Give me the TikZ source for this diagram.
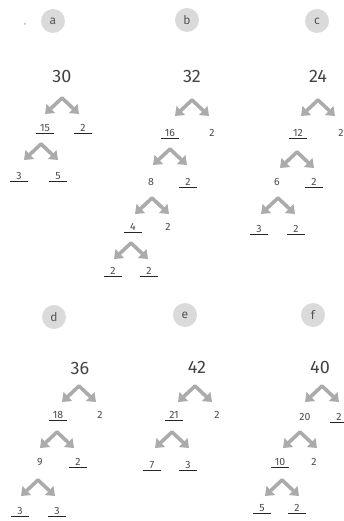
\documentclass[tikz,border=0pt]{standalone}
\usepackage{fontspec}
\setmainfont{Fira Sans}
\usetikzlibrary{arrows.meta}
\definecolor{numcol}{HTML}{444444}
\definecolor{kidcol}{HTML}{4A4A4A}
\definecolor{chevcol}{HTML}{ABABAB}
\definecolor{circfill}{HTML}{DADADA}
\definecolor{circtext}{HTML}{555555}
\tikzset{
  rootnum/.style={inner sep=0pt, text=numcol, font=\fontsize{18}{18}\selectfont},
  kid/.style={inner sep=0pt, text=kidcol, font=\fontsize{10.5}{10.5}\selectfont},
  ukid/.style={kid, minimum width=17pt, inner ysep=1.8pt,
    append after command={(\tikzlastnode.south west) edge[draw=black!85, line width=1.2pt] (\tikzlastnode.south east)}},
  tag/.style={circle, fill=circfill, minimum size=24pt, inner sep=0pt, text=circtext, font=\fontsize{12}{12}\selectfont},
  chev/.style={draw=chevcol, line width=3.6pt, line join=round,
    {Triangle[length=8pt,width=12pt]}-{Triangle[length=8pt,width=12pt]}}
}
\newcommand\chevat[2]{\draw[chev] (#1-17,#2+9) -- (#1,#2-7) -- (#1+17,#2+9);}
\begin{document}
\begin{tikzpicture}[x=1pt,y=-1pt]
\useasboundingbox (0,0) rectangle (343,521);
% stray dot
\fill[gray!60] (25,24) circle (1pt);
% tags
\node[tag] (ta) at (53,21) {a};
\node[tag] (tb) at (187,20) {b};
\node[tag] (tc) at (317,21) {c};
\node[tag] (td) at (54,317) {d};
\node[tag] (te) at (185,315) {e};
\node[tag] (tf) at (313,315) {f};
% tree a
\node[rootnum] (a0) at (62,76) {30};
\chevat{62}{105}
\node[ukid] (a1) at (45,128) {15};
\node[ukid] (a2) at (83,128) {2};
\chevat{41}{151}
\node[ukid] (a3) at (19,176) {3};
\node[ukid] (a4) at (58,176) {5};
% tree b
\node[rootnum] (b0) at (192,76) {32};
\chevat{192}{107}
\node[ukid] (b1) at (170,133) {16};
\node[kid] (b2) at (212,133) {2};
\chevat{170}{156}
\node[kid] (b3) at (151,182) {8};
\node[ukid] (b4) at (188,182) {2};
\chevat{152}{205}
\node[ukid] (b5) at (133,227) {4};
\node[kid] (b6) at (168,227) {2};
\chevat{131}{250}
\node[ukid] (b7) at (113,271) {2};
\node[ukid] (b8) at (149,271) {2};
% tree c
\node[rootnum] (c0) at (318,76) {24};
\chevat{318}{107}
\node[ukid] (c1) at (298,133) {12};
\node[kid] (c2) at (341,133) {2};
\chevat{297}{159}
\node[kid] (c3) at (277,182) {6};
\node[ukid] (c4) at (314,182) {2};
\chevat{278}{205}
\node[ukid] (c5) at (259,229) {3};
\node[ukid] (c6) at (296,229) {2};
% tree d
\node[rootnum] (d0) at (80,368) {36};
\chevat{79}{393}
\node[ukid] (d1) at (58,415) {18};
\node[kid] (d2) at (100,415) {2};
\chevat{57}{439}
\node[kid] (d3) at (40,462) {9};
\node[ukid] (d4) at (78,462) {2};
\chevat{38}{487}
\node[ukid] (d5) at (20,511) {3};
\node[ukid] (d6) at (57,511) {3};
% tree e
\node[rootnum] (e0) at (197,367) {42};
\chevat{195}{393}
\node[ukid] (e1) at (174,415) {21};
\node[kid] (e2) at (217,415) {2};
\chevat{172}{439}
\node[ukid] (e3) at (152,465) {7};
\node[ukid] (e4) at (188,465) {3};
% tree f
\node[rootnum] (f0) at (320,367) {40};
\chevat{322}{393}
\node[kid] (f1) at (305,417) {20};
\node[ukid] (f2) at (339,417) {2};
\chevat{300}{439}
\node[ukid] (f3) at (280,462) {10};
\node[kid] (f4) at (314,462) {2};
\chevat{282}{487}
\node[ukid] (f5) at (262,508) {5};
\node[ukid] (f6) at (297,508) {2};
\end{tikzpicture}
\end{document}
